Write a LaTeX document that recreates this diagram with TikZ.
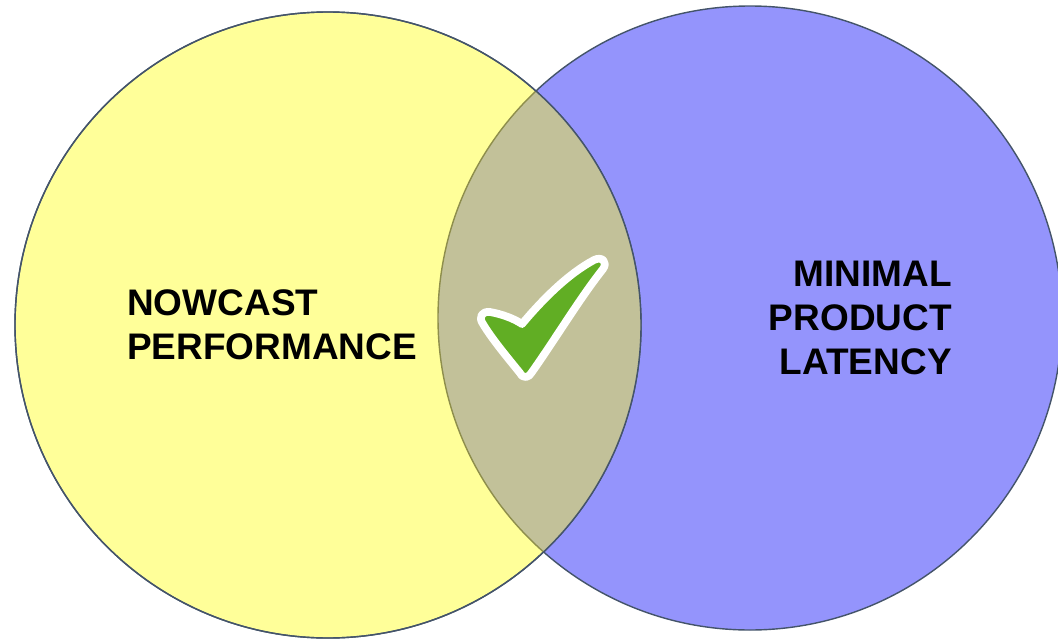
\documentclass[tikz,border=0pt]{standalone}
\usepackage{fontspec}
\setmainfont{Liberation Sans}
\definecolor{yellowset}{HTML}{FFFF99}
\definecolor{blueset}{HTML}{9494FC}
\definecolor{lensfill}{HTML}{C2C199}
\definecolor{rim}{HTML}{44546A}
\definecolor{lensrim}{HTML}{8E8E4C}
\definecolor{tick}{HTML}{61AE24}
\begin{document}
\begin{tikzpicture}[x=0.025cm,y=-0.025cm,
    ring/.style={draw=rim,line width=1pt},
    settext/.style={font=\bfseries\fontsize{26.3}{31.2}\selectfont,inner sep=0pt}]
    \useasboundingbox (0,0) rectangle (1058,638);
    % the two sets
    \draw[ring,fill=blueset] (750,318) circle[radius=312];
    \draw[ring,fill=yellowset] (328,325) circle[radius=313];
    \begin{scope}
        \clip (328,325) circle[radius=313];
        \fill[lensfill] (750,318) circle[radius=312];
        \draw[lensrim,line width=1pt] (750,318) circle[radius=312];
    \end{scope}
    \draw[ring] (328,325) circle[radius=313];
    % labels
    \node[settext,anchor=base west,align=left] (nowcast) at (127,359.5) {NOWCAST\\PERFORMANCE};
    \node[settext,anchor=base east,align=right] (latency) at (952,374) {MINIMAL\\PRODUCT\\LATENCY};
    % check mark
    \draw[white,line width=5.5pt,line join=round,fill=tick]
        (483,324) .. controls (478,317) and (482,311) .. (490,312)
        .. controls (501,314) and (513,318) .. (522,324)
        .. controls (543,299) and (568,274) .. (594,260)
        .. controls (602,256) and (608,262) .. (603,269)
        .. controls (580,298) and (556,338) .. (532,372)
        .. controls (529,378) and (523,379) .. (520,373)
        .. controls (507,357) and (492,339) .. (483,324) -- cycle;
\end{tikzpicture}
\end{document}
